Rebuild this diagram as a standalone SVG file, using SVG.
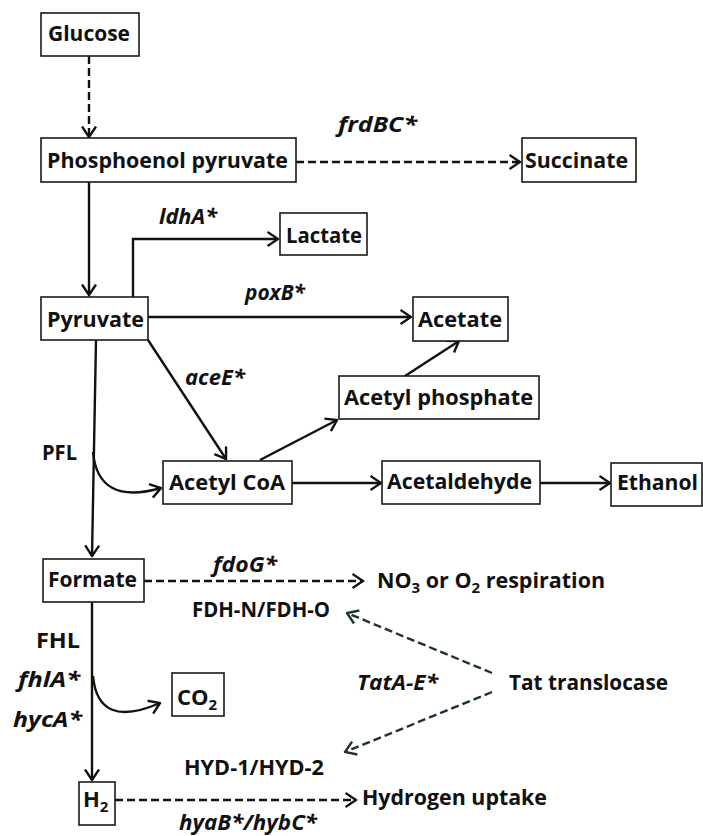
<svg xmlns="http://www.w3.org/2000/svg" width="703" height="836" viewBox="0 0 703 836">
<defs>
<style>
.box{fill:#fff;stroke:#1a1a1a;stroke-width:1.6}
.t{font-family:"Open Sans","Liberation Sans",sans-serif;font-weight:700;font-size:22px;fill:#111}
.i{font-style:italic}
.c{fill:none;stroke:#111;stroke-width:2.4}
.d{stroke-dasharray:8 4}
.g{stroke:#1f3528}
</style>
<marker id="ah" markerUnits="userSpaceOnUse" viewBox="0 0 13 16" markerWidth="13" markerHeight="16" refX="11.5" refY="8" orient="auto">
<path d="M1,1 L11.5,8 L1,15" fill="none" stroke="#111" stroke-width="2.4"/>
</marker>
<marker id="ahg" markerUnits="userSpaceOnUse" viewBox="0 0 13 16" markerWidth="13" markerHeight="16" refX="11.5" refY="8" orient="auto">
<path d="M1,1 L11.5,8 L1,15" fill="none" stroke="#1f3528" stroke-width="2.4"/>
</marker>
</defs>
<rect width="703" height="836" fill="#fff"/>
<g id="connectors">
<path class="c d" d="M89,56 V137" marker-end="url(#ah)"/>
<path class="c d" d="M296,162 H520" marker-end="url(#ah)"/>
<path class="c" d="M89,182 V295" marker-end="url(#ah)"/>
<path class="c" d="M133,297 V239 H278" marker-end="url(#ah)"/>
<path class="c" d="M148,317 H411" marker-end="url(#ah)"/>
<path class="c" d="M148,340 L226,459" marker-end="url(#ah)"/>
<path class="c" d="M96,340 L92,556" marker-end="url(#ah)"/>
<path class="c" d="M93,452 Q98,506 161,488" marker-end="url(#ah)"/>
<path class="c" d="M260,460 L337,420" marker-end="url(#ah)"/>
<path class="c" d="M405,376 L459,341" marker-end="url(#ah)"/>
<path class="c" d="M292,483 H381" marker-end="url(#ah)"/>
<path class="c" d="M540,483 H610" marker-end="url(#ah)"/>
<path class="c d" d="M144,581 H363" marker-end="url(#ah)"/>
<path class="c" d="M92,602 V780" marker-end="url(#ah)"/>
<path class="c" d="M93,676 Q98,730 160,703" marker-end="url(#ah)"/>
<path class="c d" d="M115,800 H356" marker-end="url(#ah)"/>
<path class="c d g" d="M492,673 L347,613" marker-end="url(#ahg)"/>
<path class="c d g" d="M492,692 L345,752" marker-end="url(#ahg)"/>
</g>
<g id="glucose"><rect class="box" x="41" y="13" width="98" height="43"/><text class="t" x="48" y="41" textLength="82" lengthAdjust="spacingAndGlyphs">Glucose</text></g>
<g id="pep"><rect class="box" x="41" y="138" width="255" height="44"/><text class="t" x="47" y="168" textLength="241" lengthAdjust="spacingAndGlyphs">Phosphoenol pyruvate</text></g>
<g id="succinate"><rect class="box" x="522" y="138" width="114" height="44"/><text class="t" x="525" y="168" textLength="103" lengthAdjust="spacingAndGlyphs">Succinate</text></g>
<g id="lbl-frdBC"><text class="t i" x="338" y="132" textLength="79" lengthAdjust="spacingAndGlyphs">frdBC*</text></g>
<g id="lactate"><rect class="box" x="280" y="213" width="87" height="42"/><text class="t" x="286" y="243" textLength="76" lengthAdjust="spacingAndGlyphs">Lactate</text></g>
<g id="lbl-ldhA"><text class="t i" x="159" y="224" textLength="58" lengthAdjust="spacingAndGlyphs">ldhA*</text></g>
<g id="pyruvate"><rect class="box" x="41" y="297" width="107" height="43"/><text class="t" x="47" y="327" textLength="97" lengthAdjust="spacingAndGlyphs">Pyruvate</text></g>
<g id="lbl-poxB"><text class="t i" x="245" y="300" textLength="60" lengthAdjust="spacingAndGlyphs">poxB*</text></g>
<g id="acetate"><rect class="box" x="413" y="297" width="95" height="44"/><text class="t" x="418" y="327" textLength="84" lengthAdjust="spacingAndGlyphs">Acetate</text></g>
<g id="lbl-aceE"><text class="t i" x="185" y="385" textLength="60" lengthAdjust="spacingAndGlyphs">aceE*</text></g>
<g id="acetylphosphate"><rect class="box" x="339" y="376" width="200" height="43"/><text class="t" x="344" y="405" textLength="189" lengthAdjust="spacingAndGlyphs">Acetyl phosphate</text></g>
<g id="acetylcoa"><rect class="box" x="163" y="461" width="129" height="43"/><text class="t" x="169" y="490" textLength="116" lengthAdjust="spacingAndGlyphs">Acetyl CoA</text></g>
<g id="acetaldehyde"><rect class="box" x="382" y="461" width="158" height="43"/><text class="t" x="387" y="489" textLength="145" lengthAdjust="spacingAndGlyphs">Acetaldehyde</text></g>
<g id="ethanol"><rect class="box" x="611" y="463" width="91" height="43"/><text class="t" x="617" y="490" textLength="81" lengthAdjust="spacingAndGlyphs">Ethanol</text></g>
<g id="lbl-pfl"><text class="t" x="42" y="460" textLength="35" lengthAdjust="spacingAndGlyphs">PFL</text></g>
<g id="formate"><rect class="box" x="43" y="559" width="101" height="43"/><text class="t" x="48" y="587" textLength="89" lengthAdjust="spacingAndGlyphs">Formate</text></g>
<g id="lbl-fdoG"><text class="t i" x="213" y="572" textLength="64" lengthAdjust="spacingAndGlyphs">fdoG*</text></g>
<g id="respiration"><text class="t" x="377" y="588" style="font-size:21.5px">NO<tspan font-size="15" dy="5">3</tspan><tspan dy="-5"> or O</tspan><tspan font-size="15" dy="5">2</tspan><tspan dy="-5"> respiration</tspan></text></g>
<g id="lbl-fdh"><text class="t" x="192" y="617" textLength="138" lengthAdjust="spacingAndGlyphs">FDH-N/FDH-O</text></g>
<g id="lbl-fhl"><text class="t" x="36" y="648" textLength="44" lengthAdjust="spacingAndGlyphs">FHL</text></g>
<g id="lbl-fhlA"><text class="t i" x="18" y="687" textLength="62" lengthAdjust="spacingAndGlyphs">fhlA*</text></g>
<g id="lbl-hycA"><text class="t i" x="13" y="727" textLength="69" lengthAdjust="spacingAndGlyphs">hycA*</text></g>
<g id="co2"><rect class="box" x="172" y="673" width="52" height="43"/><text class="t" x="177" y="705">CO<tspan font-size="15" dy="5">2</tspan></text></g>
<g id="lbl-hyd"><text class="t" x="184" y="775" textLength="140" lengthAdjust="spacingAndGlyphs">HYD-1/HYD-2</text></g>
<g id="h2"><rect class="box" x="79" y="782" width="36" height="43"/><text class="t" x="83" y="807">H<tspan font-size="15" dy="5">2</tspan></text></g>
<g id="hydrogenuptake"><text class="t" x="362" y="805" textLength="185" lengthAdjust="spacingAndGlyphs">Hydrogen uptake</text></g>
<g id="lbl-hyaB"><text class="t i" x="179" y="830" textLength="138" lengthAdjust="spacingAndGlyphs">hyaB*/hybC*</text></g>
<g id="tat"><text class="t" x="509" y="690" textLength="159" lengthAdjust="spacingAndGlyphs">Tat translocase</text></g>
<g id="lbl-tatA"><text class="t i" x="357" y="690" textLength="81" lengthAdjust="spacingAndGlyphs">TatA-E*</text></g>
</svg>
